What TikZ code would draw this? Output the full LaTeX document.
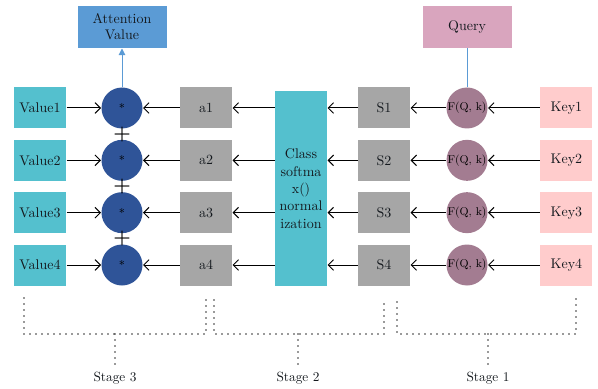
\documentclass[tikz,border=0pt]{standalone}
\usetikzlibrary{arrows.meta}

\definecolor{valcol}{RGB}{84,192,206}
\definecolor{multcol}{RGB}{47,84,152}
\definecolor{graycol}{RGB}{166,166,166}
\definecolor{fcol}{RGB}{163,124,145}
\definecolor{keycol}{RGB}{255,204,204}
\definecolor{querycol}{RGB}{217,165,190}
\definecolor{attcol}{RGB}{91,155,213}
\definecolor{txtcol}{RGB}{20,25,30}

\begin{document}
\begin{tikzpicture}[x=0.75pt,y=-0.75pt,>={Straight Barb[length=4pt,width=8pt]},
  line width=0.75pt,node distance=62.25pt,
  box node/.style={rectangle,minimum width=39pt,minimum height=30.75pt,inner sep=1pt,
    text=txtcol,font=\fontsize{10.5}{12}\selectfont},
  value node/.style={box node,fill=valcol},
  weight node/.style={box node,fill=graycol},
  key node/.style={box node,fill=keycol},
  mult node/.style={circle,fill=multcol,minimum size=30.75pt,inner sep=0pt,font=\small},
  f node/.style={circle,fill=fcol,minimum size=30.75pt,inner sep=0pt,
    font=\fontsize{8.5}{9}\selectfont},
  top node/.style={rectangle,minimum width=66.75pt,minimum height=31.5pt,inner sep=1pt,
    text=txtcol,align=center,font=\fontsize{10.5}{12}\selectfont},
  plus node/.style={font=\fontsize{15}{15}\bfseries\selectfont,inner sep=0pt},
  stage line/.style={line width=1.4pt,line cap=round,black!80,dash pattern=on 0pt off 4.5pt},
  stage node/.style={font=\fontsize{10}{11}\selectfont,text=txtcol}]

 \useasboundingbox (0,0) rectangle (598,388);

 % first column
 \node[value node] (v1) at (40,108) {Value1};
 \node[value node] (v2) [below of=v1,node distance=39.25pt] {Value2};
 \node[value node] (v3) [below of=v2,node distance=39.25pt] {Value3};
 \node[value node] (v4) [below of=v3,node distance=39.25pt] {Value4};

 \node[mult node] (m1) [right of=v1,node distance=61.5pt] {*};
 \node[mult node] (m2) [right of=v2,node distance=61.5pt] {*};
 \node[mult node] (m3) [right of=v3,node distance=61.5pt] {*};
 \node[mult node] (m4) [right of=v4,node distance=61.5pt] {*};

 \node[weight node] (a1) [right of=m1,node distance=63pt] {a1};
 \node[weight node] (a2) [right of=m2,node distance=63pt] {a2};
 \node[weight node] (a3) [right of=m3,node distance=63pt] {a3};
 \node[weight node] (a4) [right of=m4,node distance=63pt] {a4};

 \node[box node,fill=valcol,minimum height=146.25pt,align=center,
   font=\fontsize{10.5}{13}\selectfont] (norm) at (301,188.5)
   {Class\\softma\\x()\\normal\\ization};

 \node[weight node] (s1) [right of=a1,node distance=133.5pt] {S1};
 \node[weight node] (s2) [right of=a2,node distance=133.5pt] {S2};
 \node[weight node] (s3) [right of=a3,node distance=133.5pt] {S3};
 \node[weight node] (s4) [right of=a4,node distance=133.5pt] {S4};

 \node[f node] (f1) [right of=s1] {F(Q, k)};
 \node[f node] (f2) [right of=s2] {F(Q, k)};
 \node[f node] (f3) [right of=s3] {F(Q, k)};
 \node[f node] (f4) [right of=s4] {F(Q, k)};

 \node[key node] (k1) [right of=f1,node distance=74.6pt] {Key1};
 \node[key node] (k2) [right of=f2,node distance=74.6pt] {Key2};
 \node[key node] (k3) [right of=f3,node distance=74.6pt] {Key3};
 \node[key node] (k4) [right of=f4,node distance=74.6pt] {Key4};

 \node[top node,fill=attcol] (att) [above of=m1,node distance=60.75pt] {Attention\\Value};
 \node[top node,fill=querycol] (query) [above of=f1,node distance=60.75pt] {Query};

 \path[->]
    (v1) edge (m1)
    (v2) edge (m2)
    (v3) edge (m3)
    (v4) edge (m4)
    (a1) edge (m1)
    (a2) edge (m2)
    (a3) edge (m3)
    (a4) edge (m4)
    (norm.west |- a1) edge (a1)
    (norm.west |- a2) edge (a2)
    (norm.west |- a3) edge (a3)
    (norm.west |- a4) edge (a4)
    (s1) edge (s1 -| norm.east)
    (s2) edge (s2 -| norm.east)
    (s3) edge (s3 -| norm.east)
    (s4) edge (s4 -| norm.east)
    (f1) edge (s1)
    (f2) edge (s2)
    (f3) edge (s3)
    (f4) edge (s4)
    (k1) edge (f1)
    (k2) edge (f2)
    (k3) edge (f3)
    (k4) edge (f4);

 \path (m1) -- node[plus node] {+} (m2)
       (m2) -- node[plus node] {+} (m3)
       (m3) -- node[plus node] {+} (m4);

 \draw[attcol,-{Triangle[length=5pt,width=5pt]}] (m1) -- (att);
 \draw[attcol] (query) -- (f1);

 % stages
 \node[stage node] (st3) at (115,378) {Stage 3};
 \node[stage node] (st2) at (298,378) {Stage 2};
 \node[stage node] (st1) at (488,378) {Stage 1};

 \coordinate (b3) at (115,334);
 \coordinate (b2) at (298,334);
 \coordinate (b1) at (488,334);

 \draw[stage line] (24,298) -- (24,334) -- (206,334) -- (206,297);
 \draw[stage line] (214,300) -- (214,334) -- (384,334) -- (384,300);
 \draw[stage line] (397,302) -- (397,334) -- (576,334) -- (576,298);
 \draw[stage line] (b3) -- (st3.north);
 \draw[stage line] (b2) -- (st2.north);
 \draw[stage line] (b1) -- (st1.north);

\end{tikzpicture}
\end{document}
